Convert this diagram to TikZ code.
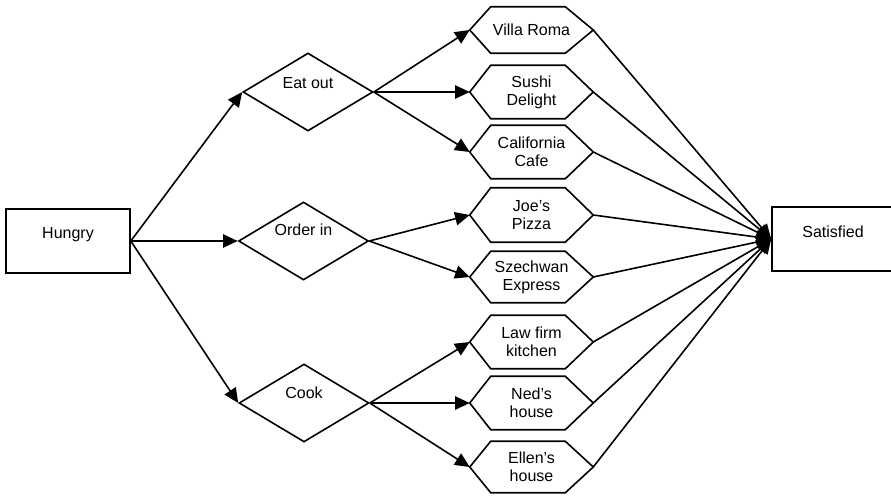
\documentclass[tikz,border=0pt]{standalone}
\usepackage{fontspec}
\setmainfont{Liberation Sans}
\usetikzlibrary{shapes.geometric,arrows.meta,calc}
\tikzset{
  ln/.style={line width=1.2pt, line join=miter},
  conn/.style={ln, -{Triangle[length=11pt,width=10pt]}},
  boxnode/.style={draw, ln, rectangle, inner sep=0pt},
  dia/.style={draw, ln, diamond, inner sep=0pt, minimum width=97.5pt, minimum height=58.5pt},
  hexbox/.style={rectangle, inner sep=0pt, minimum width=92.25pt, align=center, font=\fontsize{12}{13.5}\selectfont},
  lbl/.style={inner sep=0pt, align=center, font=\fontsize{12}{13.5}\selectfont}
}
\newcommand{\hexnode}[4]{%
  \node[hexbox, minimum height=#3*0.75pt] (#1) at (531.5,#2) {#4};
  \draw[ln] (#1.west) -- ($(#1.north west)+(21,0)$) -- ($(#1.north east)+(-28,0)$) -- (#1.east)
    -- ($(#1.south east)+(-28,0)$) -- ($(#1.south west)+(21,0)$) -- cycle;
}
\begin{document}
\begin{tikzpicture}[x=0.75pt,y=-0.75pt]
\useasboundingbox (0,0) rectangle (891,496);
\clip (0,0) rectangle (891,496);
\fill[white] (0,0) rectangle (891,496);
% start and end boxes
\node[boxnode, minimum width=93pt, minimum height=48pt] (hungry) at (68,241) {};
\node[lbl] (hungrytxt) at (68,235) {Hungry};
\node[boxnode, minimum width=102pt, minimum height=48pt] (sat) at (840,239) {};
\node[lbl] (sattxt) at (833,232) {Satisfied};
% decision diamonds
\node[dia] (eat) at (308,92) {};
\node[lbl] (eattxt) at (308,83) {Eat out};
\node[dia] (order) at (303.5,241) {};
\node[lbl] (ordertxt) at (303.5,230) {Order in};
\node[dia] (cook) at (304,403) {};
\node[lbl] (cooktxt) at (304,393) {Cook};
% options
\hexnode{villa}{30}{46}{Villa Roma}
\hexnode{sushi}{92}{53}{Sushi\\Delight}
\hexnode{calif}{152}{53}{California\\Cafe}
\hexnode{joes}{215}{54}{Joe's\\Pizza}
\hexnode{szech}{277}{51}{Szechwan\\Express}
\hexnode{law}{342}{53}{Law firm\\kitchen}
\hexnode{ned}{403}{53}{Ned's\\house}
\hexnode{ellen}{467}{51}{Ellen's\\house}
% connectors
\draw[conn] (hungry.east) -- (eat.west);
\draw[conn] (hungry.east) -- (order.west);
\draw[conn] (hungry.east) -- (cook.west);
\draw[conn] (eat.east) -- (villa.west);
\draw[conn] (eat.east) -- (sushi.west);
\draw[conn] (eat.east) -- (calif.west);
\draw[conn] (order.east) -- (joes.west);
\draw[conn] (order.east) -- (szech.west);
\draw[conn] (cook.east) -- (law.west);
\draw[conn] (cook.east) -- (ned.west);
\draw[conn] (cook.east) -- (ellen.west);
\foreach \h in {villa,sushi,calif,joes,szech,law,ned,ellen}
  \draw[conn] (\h.east) -- (sat.west);
\end{tikzpicture}
\end{document}
